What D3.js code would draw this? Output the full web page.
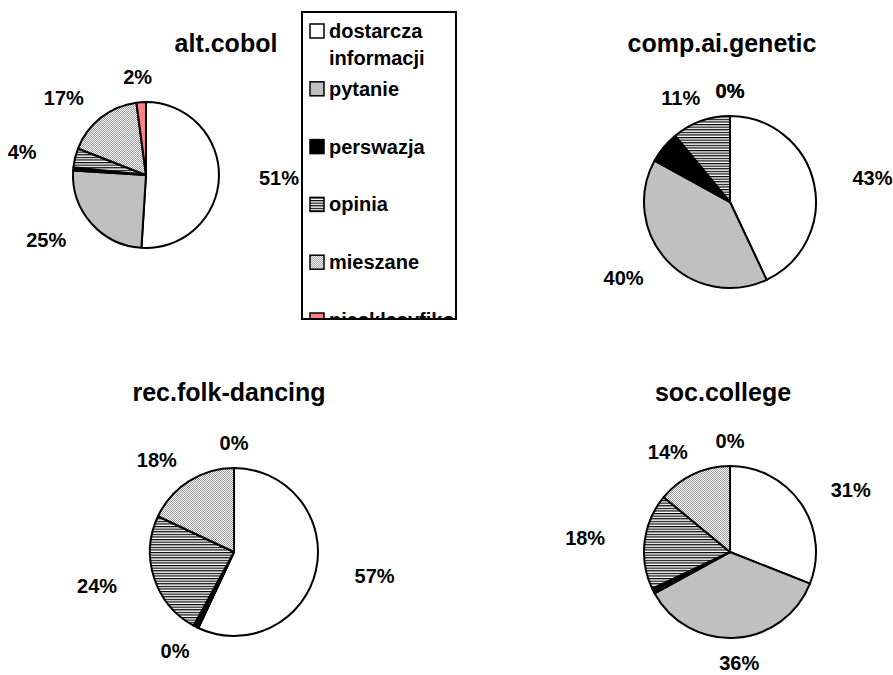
<!DOCTYPE html>
<html>
<head>
<meta charset="utf-8">
<script src="https://cdn.jsdelivr.net/npm/d3@7"></script>
<style>
  body { margin: 0; background: #fff; }
  svg { display: block; font-family: "Liberation Sans", Arial, sans-serif; font-weight: bold; }
</style>
</head>
<body>
<script>
// categories (legend order) and the four newsgroups
const categories = ["dostarcza informacji", "pytanie", "perswazja", "opinia", "mieszane", "niesklasyfikowane"];
const groups = ["alt.cobol", "comp.ai.genetic", "rec.folk-dancing", "soc.college"];

// share of posts per category (%)
const altCobol       = [51, 25, 0.7, 4.2, 17, 2.1];
const compAiGenetic  = [43, 40, 6, 11, 0, 0];
const recFolkDancing = [57, 0, 1, 24, 18, 0];
const socCollege     = [31, 36, 1, 18, 14, 0];
const series = [altCobol, compAiGenetic, recFolkDancing, socCollege];

// the original chart shows no percentage for this category
const unlabelled = "perswazja";

const width = 893, height = 675;

// where each small chart sits
const panels = [
  {cx: 146, cy: 175, r: 73, tx: 226, ty: 52},
  {cx: 730, cy: 202, r: 86, tx: 722, ty: 52},
  {cx: 234, cy: 552, r: 84, tx: 229, ty: 401},
  {cx: 730, cy: 552, r: 86, tx: 723, ty: 401}
];

const svg = d3.select("body").append("svg")
    .attr("width", width)
    .attr("height", height);

const defs = svg.append("defs");

// horizontal stripes for "opinia"
const stripes = defs.append("pattern")
    .attr("id", "stripes")
    .attr("patternUnits", "userSpaceOnUse")
    .attr("width", 4)
    .attr("height", 2.6);
stripes.append("rect").attr("width", 4).attr("height", 2.6).attr("fill", "#fff");
stripes.append("rect").attr("width", 4).attr("height", 1.2).attr("fill", "#000");

// fine checker for "mieszane"
const dots = defs.append("pattern")
    .attr("id", "dots")
    .attr("patternUnits", "userSpaceOnUse")
    .attr("width", 2)
    .attr("height", 2);
dots.append("rect").attr("width", 2).attr("height", 2).attr("fill", "#fff");
dots.append("rect").attr("width", 1).attr("height", 1).attr("fill", "#999");
dots.append("rect").attr("x", 1).attr("y", 1).attr("width", 1).attr("height", 1).attr("fill", "#999");

const color = d3.scaleOrdinal()
    .domain(categories)
    .range(["#fff", "#c0c0c0", "#000", "url(#stripes)", "url(#dots)", "#ff8080"]);

const pie = d3.pie().sort(null).value(d => d);

groups.forEach((name, k) => {
  const p = panels[k];
  const values = series[k];
  const total = d3.sum(values);
  const arcs = pie(values);
  const arc = d3.arc().innerRadius(0).outerRadius(p.r);

  svg.append("text")
      .attr("x", p.tx)
      .attr("y", p.ty)
      .attr("text-anchor", "middle")
      .attr("font-size", 25)
      .text(name);

  const g = svg.append("g")
      .attr("transform", `translate(${p.cx},${p.cy})`);

  g.selectAll("path")
    .data(arcs)
    .join("path")
      .attr("d", arc)
      .attr("fill", (d, i) => color(categories[i]))
      .attr("stroke", "#000")
      .attr("stroke-width", 2)
      .attr("stroke-linejoin", "round");

  g.selectAll("text")
    .data(arcs.filter((d, i) => categories[i] !== unlabelled))
    .join("text")
      .attr("text-anchor", "middle")
      .attr("font-size", 20)
      .text(d => Math.round(d.value / total * 100) + "%")
      .each(function(d) {
        const mid = (d.startAngle + d.endAngle) / 2;
        const ux = Math.sin(mid), uy = -Math.cos(mid);
        const hw = this.getComputedTextLength() / 2;
        d3.select(this)
            .attr("x", ux * (p.r + 40 + hw))
            .attr("y", uy * (p.r + 25) + 7);
      });
});

// legend, clipped at its frame like the original
const legend = svg.append("g")
    .attr("transform", "translate(302,12)");

defs.append("clipPath")
    .attr("id", "legend-clip")
  .append("rect")
    .attr("width", 154)
    .attr("height", 307);

legend.append("rect")
    .attr("width", 154)
    .attr("height", 307)
    .attr("fill", "#fff");

const items = legend.append("g")
    .attr("clip-path", "url(#legend-clip)")
  .selectAll("g")
  .data(categories)
  .join("g")
    .attr("transform", (d, i) => `translate(8,${12 + i * 57.8})`);

items.append("rect")
    .attr("width", 14)
    .attr("height", 14)
    .attr("fill", d => color(d))
    .attr("stroke", "#000")
    .attr("stroke-width", 1.5);

items.append("text")
    .attr("x", 19)
    .attr("y", 14)
    .attr("font-size", 20)
  .selectAll("tspan")
  .data(d => d.split(" "))
  .join("tspan")
    .attr("x", 19)
    .attr("dy", (d, i) => i ? 27 : 0)
    .text(d => d);

legend.append("rect")
    .attr("width", 154)
    .attr("height", 307)
    .attr("fill", "none")
    .attr("stroke", "#000")
    .attr("stroke-width", 2);
</script>
</body>
</html>
